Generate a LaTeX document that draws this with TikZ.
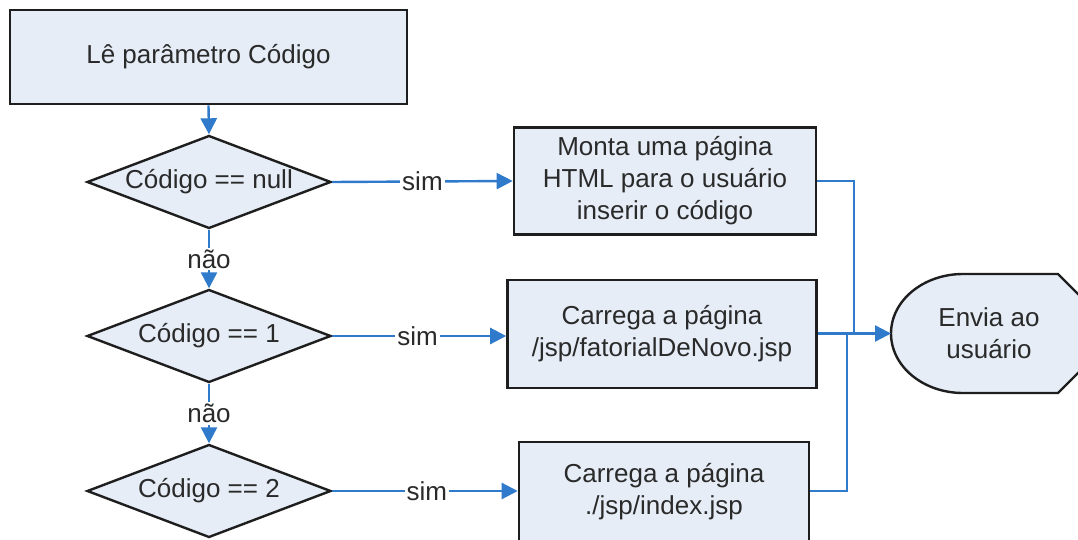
\documentclass[tikz,border=0pt]{standalone}
\usepackage{fontspec}
\setmainfont{Liberation Sans}
\usetikzlibrary{shapes.geometric,arrows.meta}
\definecolor{boxfill}{HTML}{E6EDF7}
\definecolor{linkblue}{HTML}{2F7ACB}
\definecolor{edgecol}{HTML}{1E1E1E}
\definecolor{txt}{HTML}{2A2A2A}
\tikzset{
  bigfont/.style={font=\fontsize{26}{32}\selectfont, text=txt},
  procbox/.style={draw=edgecol, line width=2.6pt, fill=boxfill, inner sep=0pt, align=center, bigfont},
  decision/.style={diamond, draw=edgecol, line width=2.4pt, fill=boxfill, inner sep=0pt, aspect=2.62,
                   minimum width=244pt, minimum height=93pt, bigfont},
  link/.style={draw=linkblue, line width=2.4pt},
  linkarrow/.style={link, -{Triangle[length=16pt,width=16pt]}},
  lbl/.style={fill=white, inner sep=2pt, bigfont},
}
\begin{document}
\begin{tikzpicture}[x=1pt,y=-1pt]
  \path[fill=white] (0,0) rectangle (1078,540);
  \useasboundingbox (0,0) rectangle (1078,540);

  % nodes
  \node[procbox, minimum width=397pt, minimum height=94pt] (read) at (208.5,57) {Lê parâmetro Código};
  \node[decision] (d1) at (209,182) {Código == null};
  \node[decision] (d2) at (209,336) {Código == 1};
  \node[decision] (d3) at (209,491) {Código == 2};

  \node[procbox, minimum width=302pt, minimum height=107pt] (b2) at (665,181) {Monta uma página\\HTML para o usuário\\inserir o código};
  \node[procbox, minimum width=309pt, minimum height=108pt] (b3) at (662,334) {Carrega a página\\/jsp/fatorialDeNovo.jsp};
  \node[procbox, minimum width=290pt, minimum height=100pt] (b4) at (664,492) {Carrega a página\\./jsp/index.jsp};

  % display shape "Envia ao usuário"
  \path[draw=edgecol, line width=2.4pt, fill=boxfill]
    (963,274) -- (1058,274) -- (1080,296) -- (1080,371) -- (1058,393) -- (963,393)
    .. controls (923.2,393) and (891,366.4) .. (891,333.5)
    .. controls (891,300.6) and (923.2,274) .. cycle;
  \node[align=center, bigfont, inner sep=0pt] (envia) at (989,333) {Envia ao\\usuário};
  \coordinate (enviaW) at (891,333.5);

  % connectors
  \draw[linkarrow] (read.south) -- (d1.north);
  \draw[linkarrow] (d1.south) -- node[lbl] {não} (d2.north);
  \draw[linkarrow] (d2.south) -- node[lbl] {não} (d3.north);

  \draw[linkarrow] (d1.east) -- node[lbl, pos=0.5] {sim} (b2.west);
  \draw[linkarrow] (d2.east) -- node[lbl, pos=0.49] {sim} (b3.west |- d2.east);
  \draw[linkarrow] (d3.east) -- node[lbl, pos=0.51] {sim} (b4.west |- d3.east);

  \coordinate (j1) at (854,333.5);
  \coordinate (j2) at (847,333.5);
  \draw[link] (b2.east) -| (j1);
  \draw[link] (b4.east |- d3.east) -| (j2);
  \draw[linkarrow] (b3.east |- enviaW) -- (enviaW);
\end{tikzpicture}
\end{document}
